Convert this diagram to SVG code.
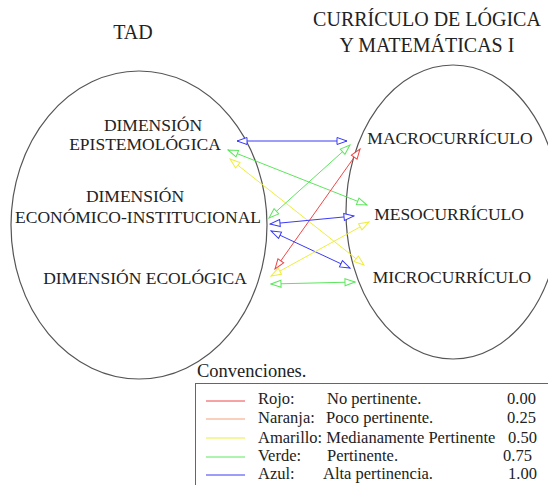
<svg xmlns="http://www.w3.org/2000/svg" width="548" height="485" viewBox="0 0 548 485">
<style>
.t{font-family:'Liberation Serif','DejaVu Serif','Noto Serif',serif;fill:#222}
.title{font-size:20px;text-anchor:middle}
.lbl{font-size:17.5px;text-anchor:middle}
.leg{font-size:16.5px}
.ell{fill:none;stroke:#555;stroke-width:1.2}
.c{fill:none;stroke-width:1}
.b{stroke:#3a3af5}.g{stroke:#5ce65c}.y{stroke:#eded40}.r{stroke:#f04646}.o{stroke:#f5a07a}
</style>
<defs>
<marker id="mb" viewBox="0 0 12 9" refX="11" refY="4.5" markerWidth="12" markerHeight="9" markerUnits="userSpaceOnUse" orient="auto-start-reverse"><path d="M1,1 L11,4.5 L1,8 Z" fill="#fff" stroke="#3a3af5"/></marker>
<marker id="mg" viewBox="0 0 12 9" refX="11" refY="4.5" markerWidth="12" markerHeight="9" markerUnits="userSpaceOnUse" orient="auto-start-reverse"><path d="M1,1 L11,4.5 L1,8 Z" fill="#fff" stroke="#5ce65c"/></marker>
<marker id="my" viewBox="0 0 12 9" refX="11" refY="4.5" markerWidth="12" markerHeight="9" markerUnits="userSpaceOnUse" orient="auto-start-reverse"><path d="M1,1 L11,4.5 L1,8 Z" fill="#fff" stroke="#eded40"/></marker>
<marker id="mr" viewBox="0 0 12 9" refX="11" refY="4.5" markerWidth="12" markerHeight="9" markerUnits="userSpaceOnUse" orient="auto-start-reverse"><path d="M1,1 L11,4.5 L1,8 Z" fill="#fff" stroke="#f04646"/></marker>
</defs>
<rect width="548" height="485" fill="#fff"/>

<g id="titles" font-family="'Liberation Serif', 'DejaVu Serif', serif">
<text class="t title" x="133" y="39">TAD</text>
<text class="t title" x="427" y="26">CURRÍCULO DE LÓGICA</text>
<text class="t title" x="427" y="52">Y MATEMÁTICAS I</text>
</g>

<g id="tad">
<ellipse class="ell" cx="139" cy="225" rx="128" ry="154"/>
</g>
<g id="curriculo">
<ellipse class="ell" cx="453" cy="212" rx="107" ry="147"/>
</g>

<g id="dim-epistemologica" font-family="'Liberation Serif', 'DejaVu Serif', serif">
<text class="t lbl" x="153" y="131">DIMENSIÓN</text>
<text class="t lbl" x="145" y="150">EPISTEMOLÓGICA</text>
</g>
<g id="dim-economico" font-family="'Liberation Serif', 'DejaVu Serif', serif">
<text class="t lbl" x="135" y="202">DIMENSIÓN</text>
<text class="t lbl" x="138" y="223">ECONÓMICO-INSTITUCIONAL</text>
</g>
<g id="dim-ecologica" font-family="'Liberation Serif', 'DejaVu Serif', serif">
<text class="t lbl" x="145" y="284">DIMENSIÓN ECOLÓGICA</text>
</g>
<g id="macro" font-family="'Liberation Serif', 'DejaVu Serif', serif">
<text class="t lbl" x="450" y="144">MACROCURRÍCULO</text>
</g>
<g id="meso" font-family="'Liberation Serif', 'DejaVu Serif', serif">
<text class="t lbl" x="449" y="220">MESOCURRÍCULO</text>
</g>
<g id="micro" font-family="'Liberation Serif', 'DejaVu Serif', serif">
<text class="t lbl" x="452" y="283">MICROCURRÍCULO</text>
</g>

<g id="connectors">
<line class="c b" x1="237" y1="141" x2="347" y2="141" marker-start="url(#mb)" marker-end="url(#mb)"/>
<line class="c g" x1="228" y1="150" x2="367" y2="205" marker-start="url(#mg)" marker-end="url(#mg)"/>
<line class="c y" x1="230" y1="159" x2="364" y2="265" marker-start="url(#my)" marker-end="url(#my)"/>
<line class="c g" x1="269" y1="218" x2="350" y2="145" marker-start="url(#mg)" marker-end="url(#mg)"/>
<line class="c r" x1="275" y1="269" x2="360" y2="149" marker-start="url(#mr)" marker-end="url(#mr)"/>
<line class="c b" x1="270" y1="224" x2="354" y2="216" marker-start="url(#mb)" marker-end="url(#mb)"/>
<line class="c b" x1="271" y1="231" x2="350" y2="268" marker-start="url(#mb)" marker-end="url(#mb)"/>
<line class="c y" x1="271" y1="276" x2="369" y2="222" marker-start="url(#my)" marker-end="url(#my)"/>
<line class="c g" x1="271" y1="284" x2="355" y2="282" marker-start="url(#mg)" marker-end="url(#mg)"/>
</g>

<g id="legend" font-family="'Liberation Serif', 'DejaVu Serif', serif">
<text class="t" x="197" y="377" style="font-size:18.5px">Convenciones.</text>
<rect x="195.5" y="383.5" width="370" height="120" fill="none" stroke="#666" stroke-width="1"/>
<line class="c r" x1="206" y1="401" x2="245" y2="401"/>
<line class="c o" x1="206" y1="419" x2="245" y2="419"/>
<line class="c y" x1="206" y1="438" x2="245" y2="438"/>
<line class="c g" x1="206" y1="457" x2="245" y2="457"/>
<line class="c b" x1="206" y1="475" x2="245" y2="475"/>
<text class="t leg" x="258" y="404">Rojo:</text>
<text class="t leg" x="327" y="404">No  pertinente.</text>
<text class="t leg" x="507" y="404">0.00</text>
<text class="t leg" x="258" y="423">Naranja:</text>
<text class="t leg" x="326" y="423">Poco pertinente.</text>
<text class="t leg" x="507" y="423">0.25</text>
<text class="t leg" x="258" y="443">Amarillo: Medianamente Pertinente</text>
<text class="t leg" x="508" y="443">0.50</text>
<text class="t leg" x="258" y="461">Verde:</text>
<text class="t leg" x="327" y="461">Pertinente.</text>
<text class="t leg" x="503" y="461">0.75</text>
<text class="t leg" x="258" y="479">Azul:</text>
<text class="t leg" x="323" y="479">Alta pertinencia.</text>
<text class="t leg" x="508" y="479">1.00</text>
</g>
</svg>
